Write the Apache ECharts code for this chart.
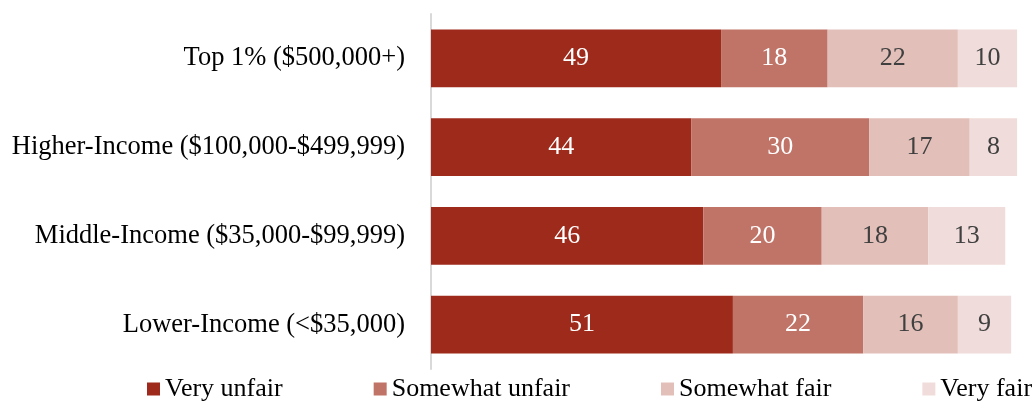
<!DOCTYPE html>
<html>
<head>
<meta charset="utf-8">
<title>Fairness by income</title>
<script src="https://cdn.jsdelivr.net/npm/echarts@6/dist/echarts.min.js"></script>
<style>
  html, body { margin: 0; padding: 0; background: #fff; }
  #chart { width: 1033px; height: 407px; }
</style>
</head>
<body>
<div id="chart"></div>
<script>
// categories, top to bottom
const groups = [
  'Top 1% ($500,000+)',
  'Higher-Income ($100,000-$499,999)',
  'Middle-Income ($35,000-$99,999)',
  'Lower-Income (<$35,000)'
];
const seriesNames = ['Very unfair', 'Somewhat unfair', 'Somewhat fair', 'Very fair'];
const veryUnfair = [49, 44, 46, 51];
const somewhatUnfair = [18, 30, 20, 22];
const somewhatFair = [22, 17, 18, 16];
const veryFair = [10, 8, 13, 9];

const colors = ['#9e2a1b', '#c07367', '#e2c0b9', '#f0dcda'];
const labelColors = ['#ffffff', '#ffffff', '#404040', '#404040'];
const values = [veryUnfair, somewhatUnfair, somewhatFair, veryFair];

const font = '"Liberation Serif", "Times New Roman", serif';

const chart = echarts.init(document.getElementById('chart'));

chart.setOption({
  animation: false,
  textStyle: { fontFamily: font },
  grid: { left: 431, top: 14, width: 592, height: 355 },
  legend: {
    data: seriesNames,
    left: 147,
    top: 376,
    width: 950,
    padding: 0,
    itemWidth: 13,
    itemHeight: 13,
    itemGap: 91,
    icon: 'rect',
    textStyle: { fontFamily: font, fontSize: 26, color: '#000' }
  },
  xAxis: {
    type: 'value',
    min: 0,
    max: 100,
    show: false
  },
  yAxis: {
    type: 'category',
    data: groups,
    inverse: true,
    axisLine: { lineStyle: { color: '#d9d9d9', width: 2 } },
    axisTick: { show: false },
    axisLabel: { fontFamily: font, fontSize: 26.5, color: '#000', margin: 26 }
  },
  series: seriesNames.map((name, i) => ({
    name: name,
    type: 'bar',
    stack: 'total',
    data: values[i],
    barCategoryGap: '35%',
    itemStyle: { color: colors[i] },
    label: {
      show: true,
      position: 'inside',
      fontFamily: font,
      fontSize: 26,
      color: labelColors[i]
    }
  }))
});
</script>
</body>
</html>
